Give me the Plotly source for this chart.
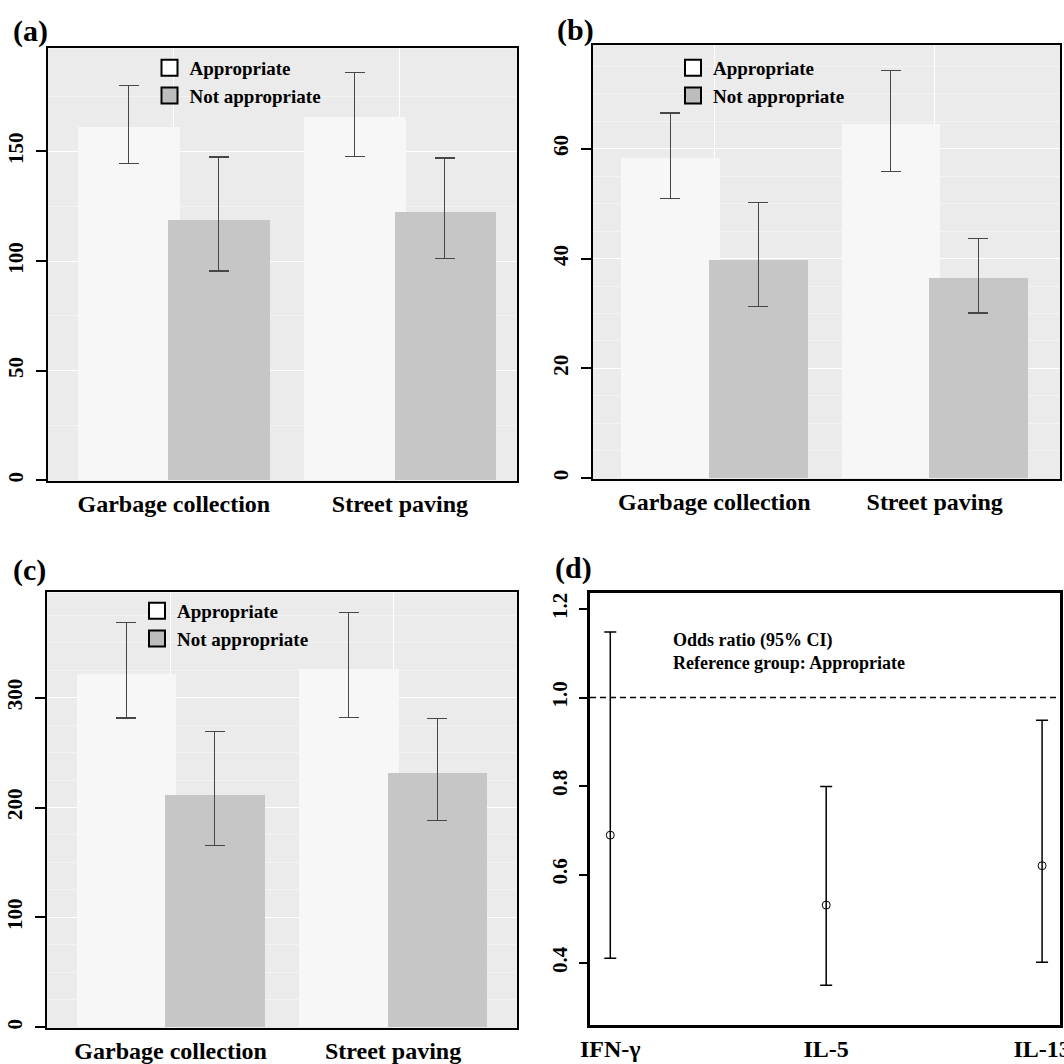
import plotly.graph_objects as go

# ---------------- data ----------------
categories = ["Garbage collection", "Street paving"]
groups = ["Appropriate", "Not appropriate"]

# panel (a)
a_mean_app = [161.0, 165.7]
a_low_app = [144.5, 147.8]
a_up_app = [180.0, 186.0]
a_mean_not = [118.6, 122.0]
a_low_not = [95.5, 101.0]
a_up_not = [147.4, 147.0]

# panel (b)
b_mean_app = [58.3, 64.5]
b_low_app = [51.0, 55.9]
b_up_app = [66.5, 74.3]
b_mean_not = [39.7, 36.4]
b_low_not = [31.2, 30.1]
b_up_not = [50.2, 43.7]

# panel (c)
c_mean_app = [321.0, 326.0]
c_low_app = [281.5, 282.0]
c_up_app = [368.4, 377.5]
c_mean_not = [211.0, 230.7]
c_low_not = [165.4, 188.2]
c_up_not = [269.0, 281.2]

# panel (d)
d_markers = ["IFN-γ", "IL-5", "IL-13"]
d_or = [0.689, 0.531, 0.620]
d_low = [0.411, 0.350, 0.402]
d_up = [1.148, 0.799, 0.949]
reference_or = 1.0

a_ticks = [0, 50, 100, 150]
b_ticks = [0, 20, 40, 60]
c_ticks = [0, 100, 200, 300]
d_ticks = [0.4, 0.6, 0.8, 1.0, 1.2]

# ---------------- style ----------------
W = H = 1064
SERIF = "Liberation Serif"
COL_APP = "#F7F7F7"
COL_NOT = "#C6C6C6"
PANEL_BG = "#EBEBEB"
ERR_COL = "#474747"


def dx(a, b):
    return [a / W, b / W]


def dy(top, bottom):
    return [1 - bottom / H, 1 - top / H]


def font(size, color="black"):
    return dict(family=SERIF, size=size, color=color, weight="bold")


fig = go.Figure()

panels = [
    ("x", "y", a_mean_app, a_low_app, a_up_app, a_mean_not, a_low_not, a_up_not, "legend"),
    ("x2", "y2", b_mean_app, b_low_app, b_up_app, b_mean_not, b_low_not, b_up_not, "legend2"),
    ("x3", "y3", c_mean_app, c_low_app, c_up_app, c_mean_not, c_low_not, c_up_not, "legend3"),
]

BAR_W = 0.448
for xa, ya, m1, l1, u1, m2, l2, u2, lg in panels:
    for name, m, l, u, col, off in [
        (groups[0], m1, l1, u1, COL_APP, -0.424),
        (groups[1], m2, l2, u2, COL_NOT, -0.025),
    ]:
        fig.add_trace(go.Bar(
            x=categories, y=m, width=BAR_W, offset=off,
            marker=dict(color=col, line=dict(width=0)),
            error_y=dict(type="data", symmetric=False,
                         array=[ui - mi for ui, mi in zip(u, m)],
                         arrayminus=[mi - li for mi, li in zip(m, l)],
                         color=ERR_COL, thickness=1.2, width=10),
            xaxis=xa, yaxis=ya, showlegend=False, name=name,
        ))
    # legend entries
    for name, col in [(groups[0], "white"), (groups[1], "#BDBDBD")]:
        fig.add_trace(go.Scatter(
            x=[None], y=[None], mode="markers", name=name,
            marker=dict(symbol="square", size=16, color=col,
                        line=dict(color="black", width=2)),
            xaxis=xa, yaxis=ya, legend=lg, showlegend=True,
        ))

# panel (d)
fig.add_trace(go.Scatter(
    x=d_markers, y=d_or, mode="markers",
    marker=dict(symbol="circle-open", size=8, color="black", line=dict(width=1)),
    error_y=dict(type="data", symmetric=False,
                 array=[u - m for u, m in zip(d_up, d_or)],
                 arrayminus=[m - l for m, l in zip(d_or, d_low)],
                 color="black", thickness=1.5, width=6),
    xaxis="x4", yaxis="y4", showlegend=False, name="Odds ratio",
))

# ---------------- axes ----------------
boxes = {
    "a": (dx(47.7, 517), dy(48.3, 481)),
    "b": (dx(592.7, 1060), dy(45, 479)),
    "c": (dx(46.7, 517), dy(592.4, 1028)),
    "d": (dx(590, 1060), dy(592.7, 1025)),
}


def xax(domain, anchor, rng, lw=2):
    return dict(domain=domain, anchor=anchor, type="category", range=rng,
                showline=True, linecolor="black", linewidth=lw, mirror=True,
                ticks="", tickfont=font(24), showgrid=True, gridcolor="white",
                gridwidth=1.2, zeroline=False, fixedrange=True,
                ticklabelstandoff=0, automargin=False)


def yax(domain, anchor, rng, tickvals, minor_dtick, lw=2, grid=True, fmt=None):
    d = dict(domain=domain, anchor=anchor, range=rng, tickvals=tickvals,
             showline=True, linecolor="black", linewidth=lw, mirror=True,
             ticks="outside", ticklen=10, tickwidth=1.5, tickcolor="black",
             tickangle=-90, tickfont=font(21), zeroline=False,
             showgrid=grid, gridcolor="white", gridwidth=1.2,
             ticklabelstandoff=4, automargin=False, fixedrange=True)
    if minor_dtick:
        d["minor"] = dict(dtick=minor_dtick, showgrid=True, gridcolor="#F3F3F3",
                          gridwidth=1, ticks="")
    if fmt:
        d["tickformat"] = fmt
    return d


fig.update_layout(
    xaxis=xax(boxes["a"][0], "y", [-0.558, 1.518]),
    yaxis=yax(boxes["a"][1], "x", [-0.3, 197], a_ticks, 25),
    xaxis2=xax(boxes["b"][0], "y2", [-0.552, 1.569]),
    yaxis2=yax(boxes["b"][1], "x2", [-0.15, 78.9], b_ticks, 5),
    xaxis3=xax(boxes["c"][0], "y3", [-0.557, 1.557]),
    yaxis3=yax(boxes["c"][1], "x3", [-0.6, 395.7], c_ticks, 25),
    xaxis4=dict(xax(boxes["d"][0], "y4", [-0.094, 2.083], lw=3), showgrid=False),
    yaxis4=dict(yax(boxes["d"][1], "x4", [0.26, 1.237], d_ticks, None, lw=3,
                    grid=False, fmt=".1f"), ticklen=8),
)

# grey panel backgrounds for (a)-(c)
for xa in ["x", "x2", "x3"]:
    ya = "y" + xa[1:]
    fig.add_shape(type="rect", xref=f"{xa} domain", yref=f"{ya} domain",
                  x0=0, x1=1, y0=0, y1=1, fillcolor=PANEL_BG,
                  line=dict(width=0), layer="below")

# dashed reference line in (d)
fig.add_shape(type="line", xref="x4 domain", yref="y4", x0=0, x1=1,
              y0=reference_or, y1=reference_or,
              line=dict(color="black", width=1.5, dash="6px,4px"))

fig.add_annotation(xref="x4", yref="y4", x=0.282, y=1.103, xanchor="left",
                   yanchor="middle", align="left", showarrow=False,
                   text="Odds ratio (95% CI)<br>Reference group: Appropriate",
                   font=font(18))

# panel labels
for lab, px, py in [("(a)", 11, 31), ("(b)", 555, 30), ("(c)", 11, 570), ("(d)", 553, 568)]:
    fig.add_annotation(xref="paper", yref="paper", x=px / W, y=1 - py / H,
                       xanchor="left", yanchor="middle", showarrow=False,
                       text=lab, font=font(30))

# legends
leg_common = dict(font=font(19), bgcolor="rgba(0,0,0,0)", borderwidth=0,
                  xanchor="left", yanchor="top", tracegroupgap=0,
                  itemclick=False, itemdoubleclick=False)
fig.update_layout(
    legend=dict(leg_common, x=149.5 / W, y=1 - 49 / H),
    legend2=dict(leg_common, x=673 / W, y=1 - 49 / H),
    legend3=dict(leg_common, x=137 / W, y=1 - 592 / H),
)

fig.update_layout(
    width=W, height=H, autosize=False,
    margin=dict(l=0, r=0, t=0, b=0, autoexpand=False),
    paper_bgcolor="white", plot_bgcolor="white",
    barmode="overlay", bargap=0, hovermode=False,
)

fig.write_html(
    "out.html",
    config={"displayModeBar": False, "staticPlot": False},
    post_script="document.body.style.margin='0';document.body.style.padding='0';"
                "document.body.style.overflow='hidden';",
)
